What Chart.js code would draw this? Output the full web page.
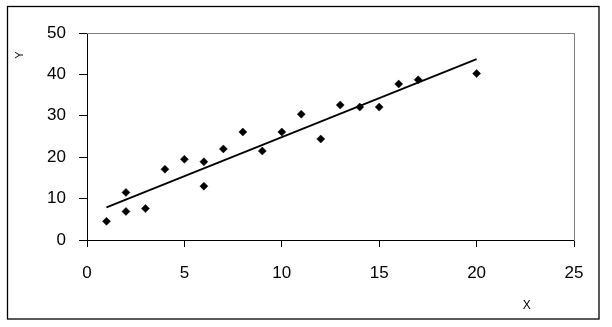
<!DOCTYPE html>
<html>
<head>
<meta charset="utf-8">
<style>
    html, body { margin: 0; padding: 0; background: #fff; }
    #wrap { width: 612px; height: 327px; position: relative; }
</style>
<script src="https://cdn.jsdelivr.net/npm/chart.js@4"></script>
</head>
<body>
<div id="wrap"><canvas id="chart" width="612" height="327"></canvas></div>
<script>
// данные
const xValues = [1, 2, 2, 3, 4, 5, 6, 6, 7, 8, 9, 10, 11, 12, 13, 14, 15, 16, 17, 20];
const yValues = [4.5, 11.5, 6.9, 7.6, 17.1, 19.5, 18.9, 13.0, 22.0, 26.1, 21.5, 26.1, 30.4, 24.4, 32.6, 32.1, 32.1, 37.7, 38.7, 40.2];
const trendX = [1, 20];
const trendY = [7.9, 43.7];
const xTicks = [0, 5, 10, 15, 20, 25];
const yTicks = [0, 10, 20, 30, 40, 50];

const points = xValues.map((x, i) => ({ x: x, y: yValues[i] }));
const trend = trendX.map((x, i) => ({ x: x, y: trendY[i] }));

const fontFamily = 'Arial, "Liberation Sans", sans-serif';

// рамка вокруг всей диаграммы
const outerFrame = {
    id: 'outerFrame',
    beforeDraw(chart) {
        const ctx = chart.ctx;
        ctx.save();
        ctx.fillStyle = '#fff';
        ctx.fillRect(0, 0, chart.width, chart.height);
        ctx.strokeStyle = '#000';
        ctx.lineWidth = 1.3;
        ctx.strokeRect(7.5, 6.5, 591.5, 312.5);
        ctx.restore();
    }
};

new Chart(document.getElementById('chart').getContext('2d'), {
    type: 'scatter',
    data: {
        datasets: [{
            type: 'line',
            data: trend,
            borderColor: '#000',
            borderWidth: 1.8,
            pointRadius: 0,
            fill: false,
            tension: 0
        }, {
            data: points,
            pointStyle: 'rectRot',
            pointRadius: 4,
            pointBackgroundColor: '#000',
            pointBorderColor: '#000',
            pointBorderWidth: 0.5
        }]
    },
    options: {
        responsive: false,
        animation: false,
        layout: { padding: { left: 8, top: 33, right: 38, bottom: 8 } },
        plugins: {
            legend: { display: false },
            tooltip: { enabled: false }
        },
        scales: {
            x: {
                type: 'linear',
                min: 0,
                max: 25,
                afterBuildTicks: s => { s.ticks = xTicks.map(v => ({ value: v })); },
                afterFit: s => { s.height = 79; },
                grid: { drawOnChartArea: false, tickLength: 7, color: '#000' },
                border: { color: '#000', width: 1 },
                ticks: { color: '#000', padding: 16, font: { family: fontFamily, size: 17 } },
                title: {
                    display: true,
                    text: 'X             ',
                    align: 'end',
                    color: '#000',
                    padding: { top: 0, bottom: 6 },
                    font: { family: fontFamily, size: 12 }
                }
            },
            y: {
                type: 'linear',
                min: 0,
                max: 50,
                afterBuildTicks: s => { s.ticks = yTicks.map(v => ({ value: v })); },
                afterFit: s => { s.width = 79; },
                grid: { drawOnChartArea: false, tickLength: 8, color: '#000' },
                border: { color: '#000', width: 1 },
                ticks: { color: '#000', padding: 13, font: { family: fontFamily, size: 17 } },
                title: {
                    display: true,
                    text: 'Y      ',
                    align: 'end',
                    color: '#000',
                    padding: { top: 5, bottom: 0 },
                    font: { family: fontFamily, size: 11 }
                }
            },
            // серые линии сверху и справа от области построения
            xTop: {
                type: 'linear',
                position: 'top',
                min: 0,
                max: 25,
                afterFit: s => { s.height = 0; },
                grid: { display: false },
                ticks: { display: false },
                border: { color: '#808080', width: 1 }
            },
            yRight: {
                type: 'linear',
                position: 'right',
                min: 0,
                max: 50,
                afterFit: s => { s.width = 0; },
                grid: { display: false },
                ticks: { display: false },
                border: { color: '#808080', width: 1 }
            }
        }
    },
    plugins: [outerFrame]
});
</script>
</body>
</html>
